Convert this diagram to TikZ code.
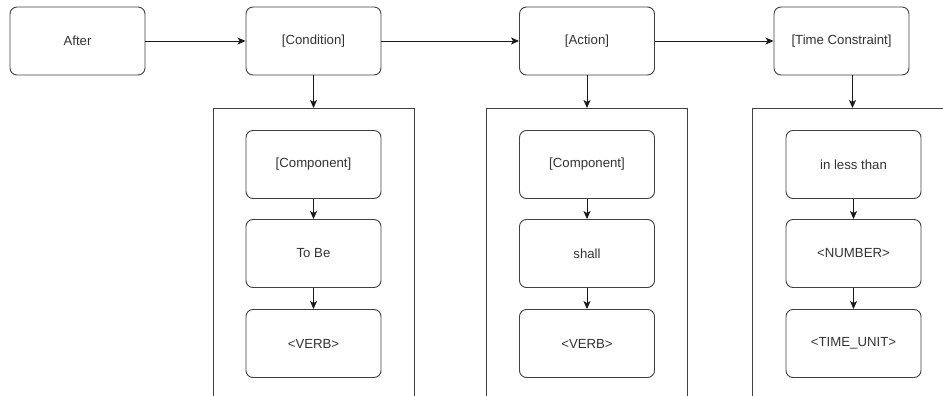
\documentclass[tikz,border=0pt]{standalone}
\usepackage{fontspec}
\setmainfont{Liberation Sans}
\usetikzlibrary{arrows.meta}

\tikzset{
  stepbox/.style={draw=black!75, line width=0.9pt, rounded corners=7pt, fill=white,
    minimum width=135pt, minimum height=68pt, inner sep=0pt, text=black!80,
    font=\fontsize{13.2}{16}\selectfont},
  frame/.style={draw=black!75, line width=0.9pt, minimum width=201pt,
    minimum height=310pt, inner sep=0pt, anchor=north},
  flow/.style={draw=black!90, line width=0.9pt, -{Stealth[length=8pt,width=7pt,inset=2pt]}}
}

\begin{document}
\begin{tikzpicture}[x=1pt,y=-1pt]
       \useasboundingbox (0,0) rectangle (943,396); \clip (0,0) rectangle (943,396);
       % top row
       \node[stepbox] (after) at (77.5,41) {After};
       \node[stepbox] (cond) at (313.5,41) {[Condition]};
       \node[stepbox] (act) at (587,41) {[Action]};
       \node[stepbox] (tc) at (841.5,41) {[Time Constraint]};
       \draw[flow] (after) -- (cond); \draw[flow] (cond) -- (act);
       \draw[flow] (act) -- (tc);
       % frames
       \node[frame] (cframe) at (313.5,108) {};
       \node[frame] (aframe) at (587,108) {};
       \node[frame] (tframe) at (852.5,108) {};
       \draw[flow] (cond) -- (cframe.north); \draw[flow] (act) -- (aframe.north);
       \draw[flow] (tc.south -| tframe.north) -- (tframe.north);
       % condition
       \node[stepbox] (ccomp) at (313.5,164.5) {[Component]};
       \node[stepbox] (cbe) at (313.5,253.5) {To Be};
       \node[stepbox] (cverb) at (313.5,343.5) {<VERB>};
       \draw[flow] (ccomp) -- (cbe); \draw[flow] (cbe) -- (cverb);
       % action
       \node[stepbox] (acomp) at (587,164.5) {[Component]};
       \node[stepbox] (ashall) at (587,253.5) {shall};
       \node[stepbox] (averb) at (587,343.5) {<VERB>};
       \draw[flow] (acomp) -- (ashall); \draw[flow] (ashall) -- (averb);
       % time constraint
       \node[stepbox] (tless) at (853.5,164.5) {in less than};
       \node[stepbox] (tnum) at (853.5,253.5) {<NUMBER>};
       \node[stepbox] (tunit) at (853.5,343.5) {<TIME\_UNIT>};
       \draw[flow] (tless) -- (tnum); \draw[flow] (tnum) -- (tunit);
\end{tikzpicture}
\end{document}
